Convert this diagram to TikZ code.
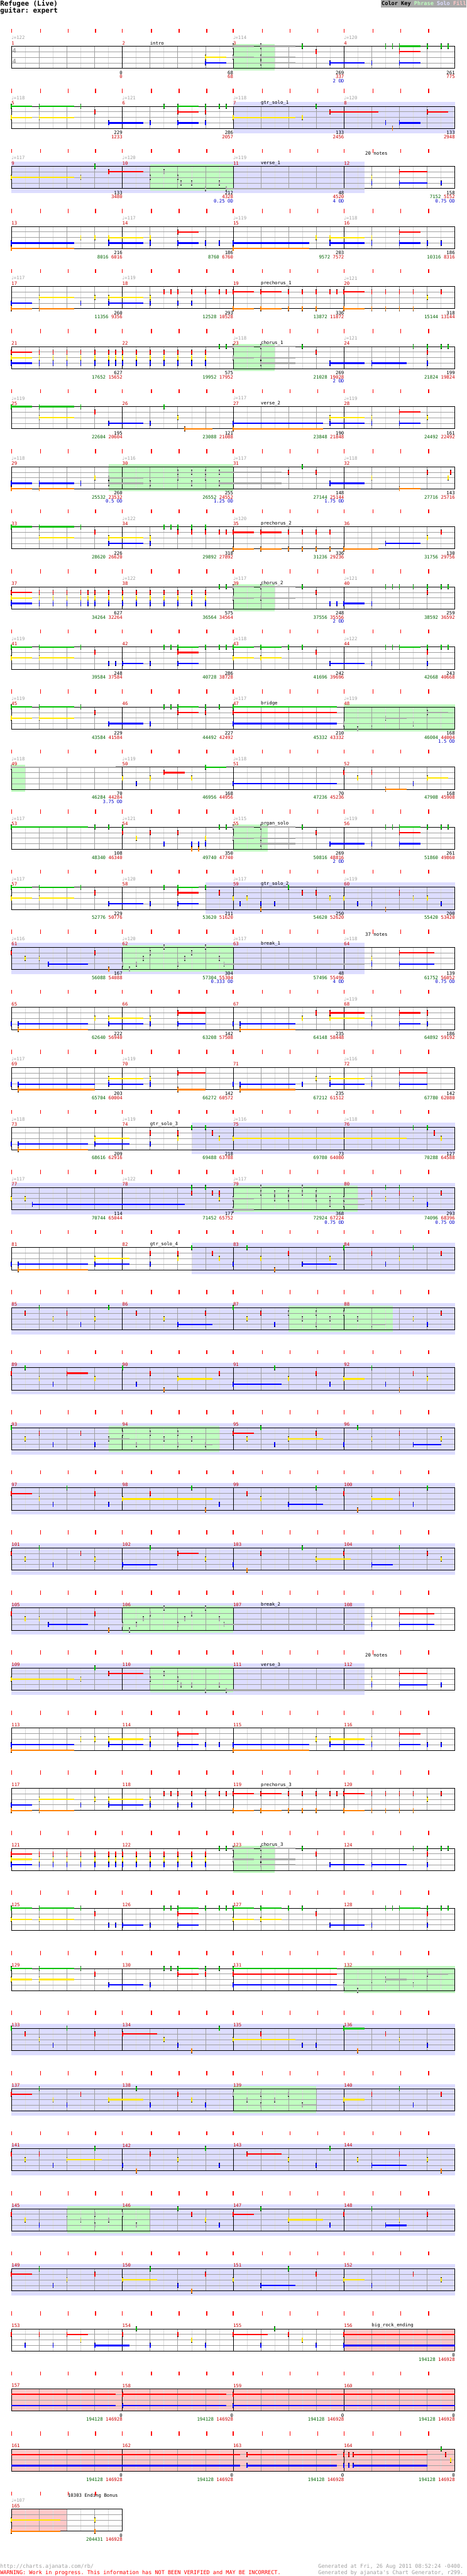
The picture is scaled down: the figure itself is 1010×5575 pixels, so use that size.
\documentclass[tikz,border=0pt]{standalone}
\usepackage{fontspec}
\setmonofont{DejaVu Sans Mono}
\newfontfamily\symf{DejaVu Sans}
\definecolor{ngreen}{RGB}{0,192,0}
\definecolor{nred}{RGB}{255,0,0}
\definecolor{nyel}{RGB}{255,230,0}
\definecolor{nblue}{RGB}{0,0,255}
\definecolor{norange}{RGB}{255,128,0}
\definecolor{ngray}{RGB}{168,168,168}
\definecolor{cphr}{RGB}{192,255,192}
\definecolor{csolo}{RGB}{221,221,255}
\definecolor{cfill}{RGB}{255,200,200}
\definecolor{clight}{RGB}{220,220,220}
\definecolor{cgrid}{RGB}{160,160,160}
\definecolor{cmred}{RGB}{204,0,0}
\definecolor{csgreen}{RGB}{0,100,0}
\definecolor{codblue}{RGB}{0,0,204}
\definecolor{ctgray}{RGB}{160,160,160}
\definecolor{ckey}{RGB}{168,168,168}
\tikzset{txt/.style={font=\fontsize{5}{5}\selectfont\ttfamily, inner sep=0pt, outer sep=0pt}}
\newcommand\Nt[4]{%
 \pgfmathsetmacro\xx{25+60*#3}%
 \pgfmathsetmacro\yy{12*#2}%
 \ifdim #4pt>0pt \fill[#1] (\xx,{\yy-1.5}) rectangle ({\xx+60*#4},{\yy+1.5});\fi
 \fill[black] ({\xx-1.25},{\yy-5.5}) rectangle ({\xx+1.25},{\yy+5.5});
 \fill[#1] ({\xx-1.25},{\yy-4.5}) rectangle ({\xx+1.25},{\yy+4.5});}
\newcommand\Ln[3]{\foreach \bb/\ll in {#3}{\Nt{#1}{#2}{\bb}{\ll}}}
\newcommand\Gn[1]{\Ln{ngreen}{0}{#1}}
\newcommand\Rn[1]{\Ln{nred}{1}{#1}}
\newcommand\Yn[1]{\Ln{nyel}{2}{#1}}
\newcommand\Bn[1]{\Ln{nblue}{3}{#1}}
\newcommand\On[1]{\Ln{norange}{4}{#1}}
\newcommand\Xn[2]{\Ln{ngray}{#1}{#2}}
\newcommand\Su[4]{\fill[#1] ({25+60*#3},{12*#2-1.5}) rectangle ({25+60*(#3+#4)},{12*#2+1.5});}
\newcommand\Solo[2]{\fill[csolo] ({25+60*#1},-10) rectangle ({25+60*#2},58);}
\newcommand\Phr[2]{\fill[cphr] ({25+60*#1},-5) rectangle ({25+60*#2},53);}
\newcommand\Fil[2]{\fill[cfill] ({25+60*#1},0) rectangle ({25+60*#2},48);}
\newcommand\Grid[1]{%
 \pgfmathtruncatemacro\nbm{#1-1}%
 \foreach \j in {0,...,\nbm}{\draw[clight,line width=0.5pt] ({55+60*\j},0) -- ({55+60*\j},48);}%
 \foreach \j in {1,...,\nbm}{\draw[cgrid,line width=0.5pt] ({25+60*\j},0) -- ({25+60*\j},48);}%
 \foreach \yv in {12,24,36}{\draw[cgrid,line width=0.5pt] (25,\yv) -- ({25+60*#1},\yv);}%
 \pgfmathtruncatemacro\nmm{#1/4}%
 \foreach \j in {1,...,\nmm}{\draw[black,line width=0.5pt] ({25+240*\j},0) -- ({25+240*\j},48);}%
 \draw[black,line width=0.5pt] (25,0) rectangle ({25+60*#1},48);}
\def\TL{25,88,148,207,265,328,388,448,505,568,628,688,745,808,868,928}
\def\TLs{25,88,148,207}
\newcommand\Ticks{\foreach \x in \TL {\fill[red] ({\x-1},-38) rectangle ({\x+1},-29);}}
\newcommand\TicksS{\foreach \x in \TLs {\fill[red] ({\x-1},-38) rectangle ({\x+1},-29);}}
\newcommand\Mn[2]{\node[txt,text=cmred,anchor=west] at ({25+240*#1},-7) {#2};}
\newcommand\Tp[2]{\node[txt,text=ctgray,anchor=west] at ({25+240*#1},-18) {{\symf ♩}=#2};}
\newcommand\Sc[2]{\node[txt,anchor=west] at ({85+240*#1},-7) {#2};}
\newcommand\Bt[5]{%
 \node[txt,anchor=east] at ({265+240*#1},57) {#2};
 \node[txt,anchor=east] at ({265+240*#1},66) {\textcolor{csgreen}{#3}\ifx\relax#3\relax\else\ \fi\textcolor{cmred}{#4}};
 \node[txt,anchor=east,text=codblue] at ({265+240*#1},75) {#5};}
\newcommand\Mall[1]{\pgfmathtruncatemacro\ma{#1}\pgfmathtruncatemacro\mb{#1+1}\pgfmathtruncatemacro\mc{#1+2}\pgfmathtruncatemacro\md{#1+3}\Mn{0}{\ma}\Mn{1}{\mb}\Mn{2}{\mc}\Mn{3}{\md}}
% reusable row contents
\newcommand\CBreak{%
\Rn{0/0,3/0,14/1.25}\Yn{0.5/0,1/0,13/0}\Bn{1.33/1.42,13/0,14/1.25}\On{3.5/0}
\Xn{0}{5.5/0,7/0}\Xn{1}{5/0,6.5/0}\Xn{2}{4.75/0,6.25/0,7.5/0}\Xn{3}{4/0,4.5/0,6/0,7.67/5.08}\Xn{4}{4.25/0}}
\newcommand\CVerseA{%
\Gn{3/0}\Rn{3.5/1.25,14/1}\Yn{0/2.25,2.5/0,13/0}\Bn{13/0,14/1,15.5/0}
\Xn{1}{5.5/0}\Xn{2}{5/0,6/0}\Xn{3}{6.125/0,6.5/0,7.5/0}\Xn{4}{7/0,7.75/5}}
\newcommand\CVerseB{%
\Rn{6/0.75,14/0.75}\Yn{2.5/0,3/0,3.5/1.25,5/0,11/0,11.5/1.25,13/0}
\Bn{0/2.25,3.5/1.25,5/0,6/0.75,7/0,7.5/0,8/2.75,11.5/1.25,13/0,14/0.75,15/0,15.5/0}\On{0/2.25,8/2.75}}
\newcommand\CPre{%
\Rn{5.5/0,5.75/0,6/0,6.5/0,7/0,7.5/0,7.75/0,8/0.75,9/0.75,10/0,10.5/0,11/0,11.5/0,11.75/0,12/0.75,13/0,13.5/0,14/0,14.5/0,15.5/0}
\Yn{1/1.25,3/0,3.5/1.25,5/0,15/0}\Bn{0/0.75,2.5/0,3.5/1.25,5/0,6/0,6.5/0}
\On{0/0.75,1/1.25,8/0.75,9/0.75,10/0,10.5/0,11/0,12/0.75,13/0,13.5/0,14/0,14.5/0}}
\newcommand\CChorus{%
\Xn{0}{8/0.75,9/1.25}\Xn{2}{8/0.75,9/1.25}\Xn{3}{9/1.25}
\Gn{7.5/0,7.75/0,10.5/0,14.5/0,15/0,15.5/0,15.75/0}
\Rn{0/0.75,1/0,1.5/0,2/0,2.5/0,3/0,3.5/0,3.75/0,4/0,4.5/0,5/0,5.5/0,6/0,6.5/0,7/0,11/0,15/0}
\Yn{0/0.75,1/0,1.5/0,2/0,2.5/0,3/0,3.5/0,3.75/0,4/0,4.5/0,5/0,5.5/0,6/0,6.5/0,7/0}
\Bn{0/0.75,1/0,1.5/0,2/0,2.5/0,3/0,3.5/0,3.75/0,4/0,4.5/0,5/0,5.5/0,6/0,6.5/0,7/0,11.5/1.25,13/1.25,15/0}}
\newcommand\CPost{%
\Gn{0/0.75,1/1.25,2.5/0,5.5/0,5.75/0,6/0.75,7/0,7.5/0,7.75/0,8/0.75,9/0.75,10/0,10.5/0,13.5/0,13.75/0,14/0.75,15/0,15.5/0,15.75/0}
\Rn{3/0,6/0.75,11/0,15/0}\Yn{0/0.75,1/1.25,8/0.75,9/0.75}\Bn{3.5/0,3.75/0,4/0.75,5/0,6/0.75,11.5/1.25,13/0,15/0}}
\newcommand\CBridge{%
\Gn{0/0.75,1/1.25,2.5/0,5.5/0,5.75/0,6/0.75,7/0,7.5/0,8/3.75}\Rn{3/0,6/0.75,7/0,8/3.75}
\Yn{0/0.75,1/1.25}\Bn{3.5/1.25,5/0,8/3.75}
\Xn{1}{15/0.75}\Xn{2}{13.5/0.75}\Xn{3}{12/0,13/0,14.5/0}\Xn{4}{12.5/0}}
\begin{document}
\begin{tikzpicture}[x=0.5pt,y=-0.5pt]
\useasboundingbox (0,0) rectangle (1010,5575);
\fill[white] (0,0) rectangle (1010,5575);
% header
\node[anchor=west,inner sep=0pt,font=\fontsize{7.4}{7.4}\selectfont\ttfamily\bfseries] (title) at (0,8) {Refugee (Live)};
\node[anchor=west,inner sep=0pt,font=\fontsize{7.4}{7.4}\selectfont\ttfamily\bfseries] (sub) at (0,23) {guitar: expert};
\fill[ckey] (825,0) rectangle (1010,16);
\node[anchor=west,inner sep=0pt,font=\fontsize{5.85}{5.85}\selectfont\ttfamily\bfseries] (key) at (826,8) {Color Key \textcolor{cphr}{Phrase} \textcolor{csolo}{Solo} \textcolor{cfill}{Fill}};
% ROW 0
\begin{scope}[shift={(0,100)}]
\Phr{8}{9.5}\Grid{16}\Ticks
\node[inner sep=0pt,text=ctgray,font=\fontsize{7}{7}\selectfont\ttfamily\bfseries] at (31,10.5) {4};
\node[inner sep=0pt,text=ctgray,font=\fontsize{7}{7}\selectfont\ttfamily\bfseries] at (31,33) {4};
\Xn{0}{8/0.75,9/1.25}\Xn{2}{8/0.75,9/1.25}\Xn{3}{9/1.25}
\Gn{10.5/0,13.5/0,13.75/0,14/0.75,15/0,15.5/0,15.75/0}
\Rn{11/0,14/0.75}
\Yn{7/0.75}
\Bn{7/0.75,11.5/1.25,13/0,14/0.75}
\Tp{0}{122}\Tp{2}{114}\Tp{3}{120}\Mall{1}\Sc{1}{intro}
\Bt{0}{0}{}{0}{}\Bt{1}{68}{}{68}{}\Bt{2}{269}{}{337}{2 OD}\Bt{3}{261}{}{775}{}
\end{scope}
% ROW 1
\begin{scope}[shift={(0,230)}]
\Solo{8}{16}\Grid{16}\Ticks
\Gn{0/0.75,1/1.25,2.5/0,5.5/0,6/0.75,7/0,7.5/0,7.75/0,11/0}
\Rn{3/0,6/0.75,7/0,11.5/1.75,15/0.75}
\Yn{0/0.75,1/1.25,8/2.25,10.5/0}
\Bn{3.5/1.25,5/0,6/0.75,7/0,13.5/0,14/0.75}
\On{13.75/0}
\Tp{0}{118}\Tp{1}{121}\Tp{2}{118}\Tp{3}{120}\Mall{5}\Sc{2}{gtr\_solo\_1}
\Bt{0}{229}{}{1233}{}\Bt{1}{286}{}{2057}{}\Bt{2}{133}{}{2456}{}\Bt{3}{133}{}{2948}{}
\end{scope}
% ROW 2
\begin{scope}[shift={(0,360)}]
\Solo{0}{12.75}\Phr{5}{8}\Grid{16}\Ticks
\CVerseA
\Tp{0}{117}\Tp{1}{120}\Tp{2}{119}\Mall{9}\Sc{2}{verse\_1}
\node[txt,anchor=west] at (791,-28) {20 notes};
\Bt{0}{133}{}{3480}{}\Bt{1}{212}{}{4328}{0.25 OD}\Bt{2}{48}{}{4520}{4 OD}\Bt{3}{158}{7152}{5152}{0.75 OD}
\end{scope}
% ROW 3
\begin{scope}[shift={(0,490)}]
\Grid{16}\Ticks
\CVerseB
\Tp{1}{117}\Tp{2}{119}\Tp{3}{118}\Mall{13}
\Bt{0}{216}{8016}{6016}{}\Bt{1}{186}{8760}{6760}{}\Bt{2}{203}{9572}{7572}{}\Bt{3}{186}{10316}{8316}{}
\end{scope}
% ROW 4
\begin{scope}[shift={(0,620)}]
\Grid{16}\Ticks
\CPre
\Tp{0}{117}\Tp{1}{119}\Tp{3}{121}\Mall{17}\Sc{2}{prechorus\_1}
\Bt{0}{260}{11356}{9356}{}\Bt{1}{293}{12528}{10528}{}\Bt{2}{336}{13872}{11872}{}\Bt{3}{318}{15144}{13144}{}
\end{scope}
% ROW 5
\begin{scope}[shift={(0,750)}]
\Phr{8}{9.5}\Grid{16}\Ticks
\CChorus
\Tp{2}{118}\Tp{3}{121}\Mall{21}\Sc{2}{chorus\_1}
\Bt{0}{627}{17652}{15652}{}\Bt{1}{575}{19952}{17952}{}\Bt{2}{269}{21028}{19028}{2 OD}\Bt{3}{199}{21824}{19824}{}
\end{scope}
% ROW 6
\begin{scope}[shift={(0,880)}]
\Grid{16}\Ticks
\Gn{0/0.75,1/1.25,2.5/0,5.5/0}
\Rn{3/0,14/0.75}
\Yn{1/1.25,6/0,11.5/1.25,13/0,15/0}
\Bn{3.5/1.25,5/0,8/3.25,11.5/1.25,13/0,14/0.75}
\On{6.25/1,8/3.25}
\Tp{0}{119}\Tp{2}{117}\Tp{3}{119}\Mall{25}\Sc{2}{verse\_2}
\Bt{0}{195}{22604}{20604}{}\Bt{1}{121}{23088}{21088}{}\Bt{2}{190}{23848}{21848}{}\Bt{3}{161}{24492}{22492}{}
\end{scope}
% ROW 7
\begin{scope}[shift={(0,1010)}]
\Phr{3.5}{8}\Grid{16}\Ticks
\Gn{10.5/0}
\Xn{1}{6/0,6.5/0,7/0,7.5/2.25}\Xn{2}{3.5/1.25,6/0,7/0}\Xn{3}{3.5/1.25,5/0,6.5/0,7.5/2.25}
\Rn{10/0,11/0,15/0,15.85/0}
\Yn{3/0,13/0,15.75/0}
\Bn{0/0.75,1/1.25,2.5/0,11.5/1.25}
\On{0/0.75,1/1.25,14/0.75}
\Tp{0}{118}\Tp{1}{116}\Tp{2}{117}\Tp{3}{118}\Mall{29}
\Bt{0}{260}{25532}{23532}{0.5 OD}\Bt{1}{255}{26552}{24552}{1.25 OD}\Bt{2}{148}{27144}{25144}{1.75 OD}\Bt{3}{143}{27716}{25716}{}
\end{scope}
% ROW 8
\begin{scope}[shift={(0,1140)}]
\Grid{16}\Ticks
\Gn{0/0.75,1/1.25,2.5/0,5.5/0,5.75/0,6/0,6.5/0,7/0}
\Rn{3/0,6/0,6.5/0,7/0,7.5/0,7.75/0,8/0.75,9/0.75,10/0,10.5/0,11/0,11.5/0,15.5/0}
\Yn{1/1.25,3.5/1.25,5/0,15/0}
\Bn{3.5/1.25,5/0,13.5/1.25}
\On{8/0.75,9/0.75,10/0,10.5/0,11/0,11.5/0,12/1.25}
\Tp{1}{122}\Tp{2}{120}\Mall{33}\Sc{2}{prechorus\_2}
\Bt{0}{226}{28620}{26620}{}\Bt{1}{318}{29892}{27892}{}\Bt{2}{336}{31236}{29236}{}\Bt{3}{130}{31756}{29756}{}
\end{scope}
% ROW 9
\begin{scope}[shift={(0,1270)}]
\Phr{8}{9.5}\Grid{16}\Ticks
\Xn{0}{8/0.75,9/1.25}\Xn{2}{8/0.75,9/1.25}
\Gn{7.5/0,7.75/0,10.5/0,13.5/0,13.75/0,14/0,14.5/0,15/0,15.5/0,15.75/0}
\Rn{0/0.75,1/0,1.5/0,2/0,2.5/0,2.75/0,3/0,3.5/0,4/0,4.5/0,5/0,5.5/0,6/0,6.5/0,7/0,11/0,15/0}
\Yn{0/0.75,1/0,1.5/0,2/0,2.5/0,2.75/0,3/0,3.5/0,4/0,4.5/0,5/0,5.5/0,6/0,6.5/0,7/0}
\Bn{0/0.75,1/0,1.5/0,2/0,2.5/0,2.75/0,3/0,3.5/0,4/0,4.5/0,5/0,5.5/0,6/0,6.5/0,7/0,11.5/0,11.75/0,12/0.75,13/0}
\Tp{1}{122}\Tp{2}{117}\Tp{3}{121}\Mall{37}\Sc{2}{chorus\_2}
\Bt{0}{627}{34264}{32264}{}\Bt{1}{575}{36564}{34564}{}\Bt{2}{248}{37556}{35556}{2 OD}\Bt{3}{259}{38592}{36592}{}
\end{scope}
% ROW 10
\begin{scope}[shift={(0,1400)}]
\Grid{16}\Ticks
\CPost
\Tp{0}{119}\Tp{2}{118}\Tp{3}{122}\Mall{41}
\Bt{0}{248}{39584}{37584}{}\Bt{1}{286}{40728}{38728}{}\Bt{2}{242}{41696}{39696}{}\Bt{3}{243}{42668}{40668}{}
\end{scope}
% ROW 11
\begin{scope}[shift={(0,1530)}]
\Phr{12}{16}\Grid{16}\Ticks
\CBridge
\Tp{0}{119}\Tp{2}{117}\Tp{3}{119}\Mall{45}\Sc{2}{bridge}
\Bt{0}{229}{43584}{41584}{}\Bt{1}{227}{44492}{42492}{}\Bt{2}{210}{45332}{43332}{}\Bt{3}{168}{46004}{44004}{1.5 OD}
\end{scope}
% ROW 12
\begin{scope}[shift={(0,1660)}]
\Phr{0}{0.5}\Grid{16}\Ticks
\Xn{0}{0/3.75}
\Gn{7/0.75}
\Rn{5.5/0.75,12/0,13/0}
\Yn{4/0,5/0,6.5/0,12.5/0,15/0.75}
\Bn{4.5/0,8/3.75,14.5/0}
\On{13.5/0.75}
\Tp{0}{118}\Tp{1}{119}\Tp{2}{118}\Mall{49}
\Bt{0}{70}{46284}{44284}{3.75 OD}\Bt{1}{168}{46956}{44956}{}\Bt{2}{70}{47236}{45236}{}\Bt{3}{168}{47908}{45908}{}
\end{scope}
% ROW 13
\begin{scope}[shift={(0,1790)}]
\Phr{8}{9.25}\Grid{16}\Ticks
\Gn{0/2.75,3/0,3.5/0,4/0,7.5/0,7.75/0,10.5/0,13.5/0,13.75/0,14/0.75,15/0,15.5/0,15.75/0}
\Xn{0}{8/0.75,9/1.25}\Xn{2}{8/0.75,9/1.25}\Xn{3}{9/1.25}
\Rn{4/0,5/0,6/0,11/0,14/0.75}
\Yn{4.5/0,7/0}
\Bn{5.5/0,6.5/0,6.75/0,7/0,11.5/1.25,13/0,14/0.75}
\On{6.5/0,6.75/0}
\Tp{0}{117}\Tp{1}{121}\Tp{2}{115}\Tp{3}{119}\Mall{53}\Sc{2}{organ\_solo}
\Bt{0}{108}{48340}{46340}{}\Bt{1}{350}{49740}{47740}{}\Bt{2}{269}{50816}{48816}{2 OD}\Bt{3}{261}{51860}{49860}{}
\end{scope}
% ROW 14
\begin{scope}[shift={(0,1920)}]
\Solo{7}{16}\Grid{16}\Ticks
\Gn{0/0.75,1/1.25,2.5/0,5.5/0,6/0.75,7/0,10/0}
\Rn{3/0,6/0.75,7.5/0,10.5/0,11/0,14/0}
\Yn{0/0.75,1/1.25,8/0,8.5/0,11.5/0,12/0,14.5/0,15/0}
\Bn{3.5/1.25,5/0,6/0.75,8.25/0,9/0,9.5/0,12.5/0,13/0,15.5/0}
\On{9/0,13.5/0}
\Tp{0}{117}\Tp{1}{120}\Tp{2}{117}\Tp{3}{119}\Mall{57}\Sc{2}{gtr\_solo\_2}
\Bt{0}{229}{52776}{50776}{}\Bt{1}{211}{53620}{51620}{}\Bt{2}{250}{54620}{52620}{}\Bt{3}{200}{55420}{53420}{}
\end{scope}
% ROW 15
\begin{scope}[shift={(0,2050)}]
\Solo{0}{12.75}\Phr{4}{8}\Grid{16}\Ticks
\CBreak
\Tp{0}{116}\Tp{1}{120}\Tp{2}{117}\Tp{3}{118}\Mall{61}\Sc{2}{break\_1}
\node[txt,anchor=west] at (791,-28) {37 notes};
\Bt{0}{167}{56088}{54088}{}\Bt{1}{304}{57304}{55304}{0.333 OD}\Bt{2}{48}{57496}{55496}{4 OD}\Bt{3}{139}{61752}{56052}{0.75 OD}
\end{scope}
% ROW 16
\begin{scope}[shift={(0,2180)}]
\Grid{16}\Ticks
\Rn{6/1,11/0,11.5/1.25,14/0.75,15/0}
\Yn{3/0,3.5/1.25,5/0,10.5/0,11.5/1.25,13/0}
\Bn{0/0,0.25/2.5,3.5/1.25,5/0,6/1,8/0,8.25/2,13/0,14/0.75,15/0}
\On{0.25/2.5,8.25/2}
\Tp{3}{119}\Mall{65}
\Bt{0}{222}{62640}{56940}{}\Bt{1}{142}{63208}{57508}{}\Bt{2}{235}{64148}{58448}{}\Bt{3}{186}{64892}{59192}{}
\end{scope}
% ROW 17
\begin{scope}[shift={(0,2310)}]
\Grid{16}\Ticks
\Rn{6/1,14/1}
\Yn{3.5/1.25,5/0,11/0,11.5/1.25,13/0}
\Bn{0/0,0.25/2.75,3.5/1.25,5/0,8/0,8.25/2,10.5/0,11.5/1.25,13/0,14/1}
\On{0.25/2.75,6/1,8.25/2}
\Tp{0}{117}\Tp{1}{119}\Tp{3}{116}\Mall{69}
\Bt{0}{203}{65704}{60004}{}\Bt{1}{142}{66272}{60572}{}\Bt{2}{235}{67212}{61512}{}\Bt{3}{142}{67780}{62080}{}
\end{scope}
% ROW 18
\begin{scope}[shift={(0,2440)}]
\Solo{6.5}{16}\Grid{16}\Ticks
\Gn{6.5/0,7/0,14.5/0,15/0}
\Rn{5/0,6/0,7.25/0,15.25/0}
\Yn{3/1.25,6/0,7.5/0,8/6.25,15.5/0}
\Bn{0/0,0.25/2.5,3/1.25,5/0}
\On{0.25/2.5}
\Tp{0}{118}\Tp{1}{119}\Tp{2}{116}\Tp{3}{118}\Mall{73}\Sc{1}{gtr\_solo\_3}
\Bt{0}{209}{68616}{62916}{}\Bt{1}{218}{69488}{63788}{}\Bt{2}{73}{69780}{64080}{}\Bt{3}{127}{70288}{64588}{}
\end{scope}
% ROW 19
\begin{scope}[shift={(0,2570)}]
\Solo{0}{16}\Phr{8}{12.5}\Grid{16}\Ticks
\Gn{6.5/0,7/0,13.5/0,14/0}
\Rn{6.5/0,7.25/0,7.5/0,13/0,14/0,15.5/0}
\Yn{0/0,0.5/0,7.5/0,13/0,13.5/0,14.5/0}
\Bn{0.75/5.5,15/0}
\Xn{0}{9/0,10.5/0}\Xn{1}{9/0,9.5/0,10/0,10.5/0,11/0}\Xn{2}{8/0.75,9.5/0,10/0,11/0,11.5/0,12/0.75}\Xn{3}{11.5/0,12/0.75}\Xn{4}{8/0.75}
\Tp{0}{117}\Tp{1}{122}\Tp{2}{117}\Mall{77}
\Bt{0}{114}{70744}{65044}{}\Bt{1}{177}{71452}{65752}{}\Bt{2}{368}{72924}{67224}{0.75 OD}\Bt{3}{293}{74096}{68396}{0.75 OD}
\end{scope}
% ROW 20
\begin{scope}[shift={(0,2700)}]
\Solo{6.5}{16}\Grid{16}\Ticks
\Gn{6.5/0,8.5/0,12/0,14.5/0}
\Rn{5/0,6/0,7.25/0,10/0,13/0,15.5/0}
\Yn{3/1.25,6/0,7.5/0,9/0,11.5/0,14/0}
\Bn{0/0,0.25/2.5,3/1.25,5/0,8/0,10.5/1.25,13.5/0}
\On{0.25/2.5,9.5/0}
\Mall{81}\Sc{1}{gtr\_solo\_4}
\end{scope}
% ROW 21
\begin{scope}[shift={(0,2830)}]
\Solo{0}{16}\Phr{10}{13.75}\Grid{16}\Ticks
\Gn{1/0,3.5/0,8/0}
\Rn{0.5/0,2/0,4.5/0,7/0,9/0,15.5/0}
\Yn{1.5/0,3/0,5.5/0,8.5/0,14.5/0}
\Bn{2.5/0,6/1.25,9.5/0,15/0}
\Xn{1}{10/0,11/0,12/0}\Xn{2}{10.5/0,11.5/0,12.5/0}\Xn{3}{11/0,13/0.5}
\Mall{85}
\end{scope}
% ROW 22
\begin{scope}[shift={(0,2960)}]
\Solo{0}{16}\Grid{16}\Ticks
\Gn{0.5/0,4/0,9.5/0,13/0}
\Rn{0/0,2/0.75,5/0,7.5/0,11/0,14.5/0}
\Yn{1/0,3/0,6/1.25,10/0,12/0.75,15/0}
\Bn{1.5/0,4.5/0,8/1.75,11.5/0,13.5/0}
\On{5.5/0,14/0}
\Mall{89}
\end{scope}
% ROW 23
\begin{scope}[shift={(0,3090)}]
\Solo{0}{16}\Phr{3.5}{7.5}\Grid{16}\Ticks
\Gn{0/0,9/0,12.5/0}
\Rn{1/0,2.5/0,8/0.75,11/0,14/0}
\Yn{0.5/0,8.5/0,10/1.25,13/0,15.5/0}
\Bn{1.5/0,3/0,9.5/0,12/0,14.5/1}
\Xn{1}{4/0,5/0,6/0}\Xn{2}{3.5/0.75,5.5/0,6.5/0}\Xn{3}{4.5/0,6/0,7/0.25}
\Mall{93}
\end{scope}
% ROW 24
\begin{scope}[shift={(0,3220)}]
\Solo{0}{16}\Grid{16}\Ticks
\Gn{2/0,6.5/0,11/0,15/0}
\Rn{0/0.75,3/0,5/0,8.5/0,12/0,14/0}
\Yn{1/0,4/3.25,9/0,13/0.75}
\Bn{1.5/0,3.5/0,7.5/0,10/1.25,14.5/0}
\On{7/0,12.5/0}
\Mall{97}
\end{scope}
% ROW 25
\begin{scope}[shift={(0,3350)}]
\Solo{0}{16}\Grid{16}\Ticks
\Gn{1/0,5/0,10.5/0,14/0}
\Rn{0/0,2.5/0,6/0.75,9/0,12/0,15/0}
\Yn{0.5/0,3/0,7/0,11/1.25,15.5/0}
\Bn{1.5/0,4/1.25,8/0,13/0.75}
\On{8.5/0}
\Mall{101}
\end{scope}
% ROW 26
\begin{scope}[shift={(0,3480)}]
\Solo{0}{12.75}\Phr{4}{8}\Grid{16}\Ticks
\CBreak
\Mall{105}\Sc{2}{break\_2}
\end{scope}
% ROW 27
\begin{scope}[shift={(0,3610)}]
\Solo{0}{12.75}\Phr{5}{8}\Grid{16}\Ticks
\CVerseA
\Mall{109}\Sc{2}{verse\_3}
\node[txt,anchor=west] at (791,-28) {20 notes};
\end{scope}
% ROW 28
\begin{scope}[shift={(0,3740)}]
\Grid{16}\Ticks
\CVerseB
\Mall{113}
\end{scope}
% ROW 29
\begin{scope}[shift={(0,3870)}]
\Grid{16}\Ticks
\CPre
\Mall{117}\Sc{2}{prechorus\_3}
\end{scope}
% ROW 30
\begin{scope}[shift={(0,4000)}]
\Phr{8}{9.5}\Grid{16}\Ticks
\CChorus
\Mall{121}\Sc{2}{chorus\_3}
\end{scope}
% ROW 31
\begin{scope}[shift={(0,4130)}]
\Grid{16}\Ticks
\CPost
\Mall{125}
\end{scope}
% ROW 32
\begin{scope}[shift={(0,4260)}]
\Phr{12}{16}\Grid{16}\Ticks
\CBridge
\Mall{129}
\end{scope}
% ROW 33
\begin{scope}[shift={(0,4390)}]
\Solo{0}{16}\Grid{16}\Ticks
\Gn{0/0,2/0,7.5/0,12/0.75}
\Rn{0.5/0,3/0,4/1.25,9/0,13.5/0}
\Yn{1/0,5.5/0,8/2.25,14/0}
\Bn{1.5/0,6/0,10.5/0,11/0,15/0}
\On{6.5/0,12.5/0}
\Mall{133}
\end{scope}
% ROW 34
\begin{scope}[shift={(0,4520)}]
\Solo{0}{16}\Phr{8}{11}\Grid{16}\Ticks
\Gn{1/0,4.5/0,14/0}
\Rn{0/0.75,2.5/0,6/0,13/0,15.5/0}
\Yn{1.5/0,3.5/1.25,6.5/0,12/0.75}
\Bn{2/0,5/0,7/0,14.5/0}
\Xn{1}{8/0,9/0,10/0}\Xn{2}{8.5/0,9.5/0}\Xn{3}{9/0,10.5/0.5}
\Mall{137}
\end{scope}
% ROW 35
\begin{scope}[shift={(0,4650)}]
\Solo{0}{16}\Grid{16}\Ticks
\Gn{3/0,7/0,11.5/0}
\Rn{0/0,1/0,5/0,8.5/1.25,14/0}
\Yn{0.5/0,2/1.25,6/0,10/0,12.5/0,15/0}
\Bn{1.5/0,4/0,7.5/0,11/0,13/1.25}
\On{4.5/0,15.5/0}
\Mall{141}
\end{scope}
% ROW 36
\begin{scope}[shift={(0,4780)}]
\Solo{0}{16}\Phr{2}{5}\Grid{16}\Ticks
\Gn{6/0,9/0,13/0}
\Rn{0/0,6.5/0,8/0.75,12/0,15/0}
\Yn{0.5/0,7/0,10/1.25,14/0}
\Bn{1/0,7.5/0,11.5/0,13.5/0.75}
\Xn{1}{2/0,3/0,4/0}\Xn{2}{2.5/0,3.5/0}\Xn{3}{3/0,4.5/0}
\Mall{145}
\end{scope}
% ROW 37
\begin{scope}[shift={(0,4910)}]
\Solo{0}{16}\Grid{16}\Ticks
\Gn{1/0,5/0,10/0}
\Rn{0/0.75,3/0,7/0,11/0,14.5/0}
\Yn{2/0,4/1.25,8/0,12/0.75,15.5/0}
\Bn{1.5/0,6/0,9/1.25,13/0}
\On{6.5/0}
\Mall{149}
\end{scope}
% ROW 38
\begin{scope}[shift={(0,5040)}]
\Fil{12}{16}\Grid{16}\Ticks
\Rn{0/0,1/0,2/0.75,4/0,6/0,8/1.25,10/0,12/4}
\Yn{2.5/0,6.5/0,10.5/0}
\Bn{0.5/0,1.5/0,3/1.25,5/0,7/0,9/0,11/0,12/4}
\Gn{4.5/0,9.5/0}
\Mall{153}\Sc{3}{big\_rock\_ending}
\Bt{3}{0}{194128}{146928}{}
\end{scope}
% ROW 39
\begin{scope}[shift={(0,5170)}]
\Fil{0}{16}\Grid{16}\Ticks
\Su{nred}{1}{0}{3.75}\Su{nblue}{3}{0}{3.75}
\Rn{4/3.75,8/8}\Bn{4/3.75,8/8}
\Mall{157}
\Bt{0}{0}{194128}{146928}{}\Bt{1}{0}{194128}{146928}{}\Bt{2}{0}{194128}{146928}{}\Bt{3}{0}{194128}{146928}{}
\end{scope}
% ROW 40
\begin{scope}[shift={(0,5300)}]
\Fil{0}{16}\Grid{16}\Ticks
\Su{nred}{1}{0}{8.25}\Su{nblue}{3}{0}{8.25}
\Rn{8.5/3.25,12/0,12.17/0,12.33/2.67,15.67/0}
\Bn{8.5/3.25,12/0,12.17/0,12.33/2.67}
\Gn{15.5/0}\Yn{15.85/0}
\Mall{161}
\Bt{0}{0}{194128}{146928}{}\Bt{1}{0}{194128}{146928}{}\Bt{2}{0}{194128}{146928}{}\Bt{3}{0}{194128}{146928}{}
\end{scope}
% ROW 41
\begin{scope}[shift={(0,5430)}]
\Fil{0}{2}\Grid{4}\TicksS
\Yn{0/1.75,3/0}\On{0/1.75,3/0}
\Tp{0}{107}\Mn{0}{165}
\node[txt,anchor=west] at (147,-28) {10303 Ending Bonus};
\Bt{0}{0}{204431}{146928}{}
\end{scope}
% footer
\node[anchor=west,inner sep=0pt,text=ctgray,font=\fontsize{5.8}{5.8}\selectfont\ttfamily] (url) at (0,5555) {http://charts.ajanata.com/rb/};
\node[anchor=west,inner sep=0pt,text=red,font=\fontsize{5.8}{5.8}\selectfont\ttfamily] (warn) at (0,5569) {WARNING: Work in progress. This information has NOT BEEN VERIFIED and MAY BE INCORRECT.};
\node[anchor=east,inner sep=0pt,text=ctgray,font=\fontsize{5.8}{5.8}\selectfont\ttfamily] (gen1) at (1004,5555) {Generated at Fri, 26 Aug 2011 08:52:24 -0400.};
\node[anchor=east,inner sep=0pt,text=ctgray,font=\fontsize{5.8}{5.8}\selectfont\ttfamily] (gen2) at (1004,5569) {Generated by ajanata's Chart Generator, r299.};
\end{tikzpicture}
\end{document}
